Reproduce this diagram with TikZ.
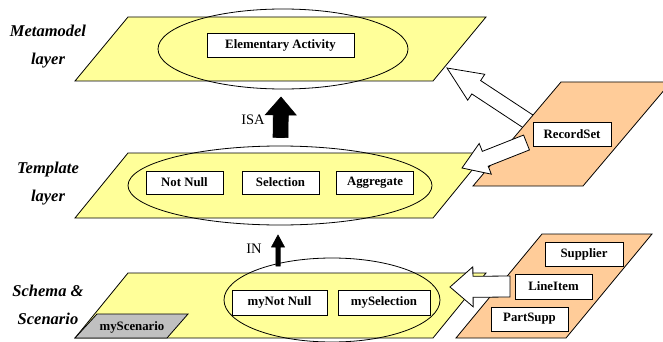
\documentclass[tikz,border=0pt]{standalone}
\usepackage{fontspec}
\setmainfont{Liberation Serif}
\usetikzlibrary{calc,shapes.geometric}
\definecolor{layeryellow}{HTML}{FFFF99}
\definecolor{srcorange}{HTML}{FFCC99}
\definecolor{scengray}{HTML}{C0C0C0}
% #1 style, #2 tail, #3 tip, #4 shaft half width, #5 head half width, #6 head length
\newcommand\blockarr[6]{%
  \coordinate (ba-b) at ($(#3)!#6!(#2)$);
  \draw[#1] ($(#2)!#4!90:(#3)$) -- ($(ba-b)!#4!90:(#3)$) -- ($(ba-b)!#5!90:(#3)$) -- (#3)
    -- ($(ba-b)!#5!-90:(#3)$) -- ($(ba-b)!#4!-90:(#3)$) -- ($(#2)!#4!-90:(#3)$) -- cycle;}
\tikzset{
  layer/.style={draw=black, line width=0.8pt, fill=layeryellow},
  srcplane/.style={draw=black, line width=0.8pt, fill=srcorange},
  group/.style={draw=black, line width=0.8pt, ellipse, inner sep=0pt},
  actbox/.style={draw=black, line width=0.8pt, fill=white, inner sep=0pt,
    minimum width=77pt, minimum height=24pt,
    font=\fontsize{12.8}{14}\selectfont\bfseries},
  lbl/.style={align=center, font=\fontsize{16.5}{28}\selectfont\bfseries\itshape},
  rel/.style={font=\fontsize{14.5}{16}\selectfont},
  hollow/.style={draw=black, line width=0.8pt, fill=white},
  solid/.style={draw=black, line width=0.6pt, fill=black},
}
\begin{document}
\begin{tikzpicture}[x=1pt, y=-1pt]
\useasboundingbox (0,0) rectangle (663,342);
% ---------- layers ----------
\path[layer] (128,17) -- (486,17) -- (433,81) -- (75,81) -- cycle;
\path[layer] (128,153) -- (486,153) -- (433,218) -- (75,218) -- cycle;
\path[layer] (128,273) -- (486,273) -- (433,338) -- (75,338) -- cycle;
% layer labels
\node[lbl] (lmeta) at (48,47) {Metamodel\\layer};
\node[lbl] (ltemp) at (48,183.5) {Template\\layer};
\node[lbl] (lschema) at (48,304.5) {Schema \&\\Scenario};
% ---------- metamodel ----------
\node[group, minimum width=250pt, minimum height=80pt] (emeta) at (283,49) {};
\node[actbox, minimum width=147pt] (elem) at (280.5,45) {Elementary Activity};
% ---------- template ----------
\node[group, minimum width=304pt, minimum height=79pt] (etemp) at (280,185.5) {};
\node[actbox, minimum height=23pt] (notnull) at (184.5,182.5) {Not Null};
\node[actbox, minimum height=23pt] (selection) at (280.5,182.5) {Selection};
\node[actbox, minimum height=23pt] (aggregate) at (375,182.5) {Aggregate};
% ---------- schema ----------
\path[draw=black, line width=0.8pt, fill=scengray] (97,314) -- (188,314) -- (167,338) -- (75,338) -- cycle;
\node[font=\fontsize{12.8}{14}\selectfont\bfseries] (myscen) at (132,327) {myScenario};
\node[group, minimum width=216pt, minimum height=84pt] (eschema) at (332,300) {};
\node[actbox, minimum width=95pt, minimum height=25pt] (mynotnull) at (279.5,302.5) {myNot Null};
\node[actbox, minimum width=92pt, minimum height=25pt] (mysel) at (384,302.5) {mySelection};
% ---------- ISA / IN ----------
\coordinate (isatail) at (280.5,137.5);
\coordinate (isatip) at (281,97);
\blockarr{solid}{isatail}{isatip}{7.5pt}{15.5pt}{18pt}
\node[rel] (isa) at (253,120) {ISA};
\coordinate (intail) at (278,266);
\coordinate (intip) at (278,235);
\blockarr{solid}{intail}{intip}{2.2pt}{6.5pt}{12pt}
\node[rel] (in) at (254,249) {IN};
% ---------- RecordSet plane ----------
\coordinate (a1tail) at (529,122);
\coordinate (a1tip) at (447,68);
\blockarr{hollow}{a1tail}{a1tip}{8pt}{15.5pt}{35pt}
\path[srcplane] (561,82) -- (671,82) -- (583,186) -- (473,186) -- cycle;
\node[actbox, minimum width=78pt] (recordset) at (572,134) {RecordSet};
\coordinate (a2tail) at (526.5,142.5);
\coordinate (a2tip) at (462,168);
\blockarr{hollow}{a2tail}{a2tip}{8pt}{16.5pt}{25pt}
% ---------- source plane ----------
\path[srcplane] (542,234) -- (652,234) -- (566,338) -- (456,338) -- cycle;
\node[actbox, minimum width=78pt] (supplier) at (584,254) {Supplier};
\node[actbox, minimum height=25pt] (lineitem) at (553.5,286.5) {LineItem};
\node[actbox] (partsupp) at (529.5,319) {PartSupp};
\coordinate (a3tail) at (510,286.5);
\coordinate (a3tip) at (450,287);
\blockarr{hollow}{a3tail}{a3tip}{10.5pt}{20pt}{23pt}
\end{tikzpicture}
\end{document}
